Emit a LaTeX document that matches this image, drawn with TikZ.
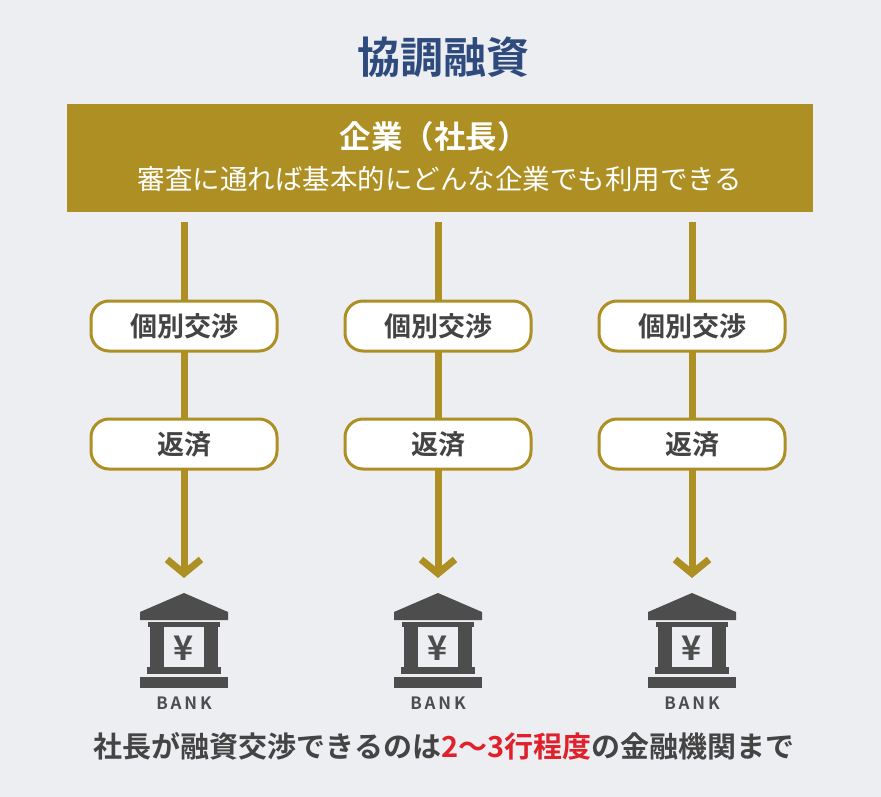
\documentclass[tikz,border=0pt]{standalone}
\usepackage{fontspec}
\setmainfont{Noto Sans CJK JP}[BoldFont={Noto Sans CJK JP Bold}]
\usetikzlibrary{arrows.meta}
\definecolor{bg}{HTML}{ECEEF2}
\definecolor{gold}{HTML}{AD8F24}
\definecolor{navy}{HTML}{2F4B7E}
\definecolor{icon}{HTML}{4D4D4D}
\definecolor{txt}{HTML}{444444}
\definecolor{red}{HTML}{E0202A}
\tikzset{
  pill/.style={draw=gold,line width=3pt,fill=white,rounded corners=18pt,minimum width=186pt,minimum height=50pt,font=\fontsize{27}{29}\selectfont\bfseries,text=txt,inner sep=0pt},
  flow/.style={draw=gold,line width=7pt,-{Straight Barb[length=14pt,width=34pt,line width=7pt]}},
}
\newcommand{\bankicon}[2]{%
 \begin{scope}[shift={(#1,0)}]
  \fill[icon] (0,593) -- (44,612) -- (44,620) -- (-44,620) -- (-44,612) -- cycle;
  \fill[icon] (-36,622) rectangle (36,627);
  \fill[icon] (-34,627) rectangle (-20,667);
  \fill[icon] (20,627) rectangle (34,667);
  \fill[icon] (-37,667) rectangle (37,674);
  \fill[icon] (-44,677) rectangle (44,688);
  \node[icon,font=\fontsize{34}{34}\selectfont\bfseries] (#2y) at (0,648) {¥};
  \node[icon,font=\fontsize{17}{17}\selectfont\bfseries] (#2) at (0,703) {B\,A\,N\,K};
 \end{scope}}
\begin{document}
\begin{tikzpicture}[x=1pt,y=-1pt]
\fill[bg] (0,0) rectangle (881,797);
\useasboundingbox (0,0) rectangle (881,797);
\node[text=navy,font=\fontsize{43}{45}\selectfont\bfseries] (title) at (443,57) {協調融資};
\node[fill=gold,minimum width=746pt,minimum height=108pt,inner sep=0pt] (top) at (440,158) {};
\node[text=white,font=\fontsize{31.5}{33}\selectfont\bfseries] (t1) at (434,137) {企業（社長）};
\node[text=white,font=\fontsize{27.5}{30}\selectfont] (t2) at (440,179) {審査に通れば基本的にどんな企業でも利用できる};
\foreach \x/\n in {184/a,438/b,692/c}{
  \coordinate (s\n) at (\x,222);
  \coordinate (e\n) at (\x,578);
  \draw[flow] (s\n) -- (e\n);
  \node[pill] (p\n) at (\x,326) {個別交渉};
  \node[pill] (r\n) at (\x,444) {返済};
  \bankicon{\x}{k\n}
}
\node[text=txt,font=\fontsize{29}{31}\selectfont\bfseries] (bottom) at (444,746) {社長が融資交渉できるのは\textcolor{red}{2〜3行程度}の金融機関まで};
\end{tikzpicture}
\end{document}
